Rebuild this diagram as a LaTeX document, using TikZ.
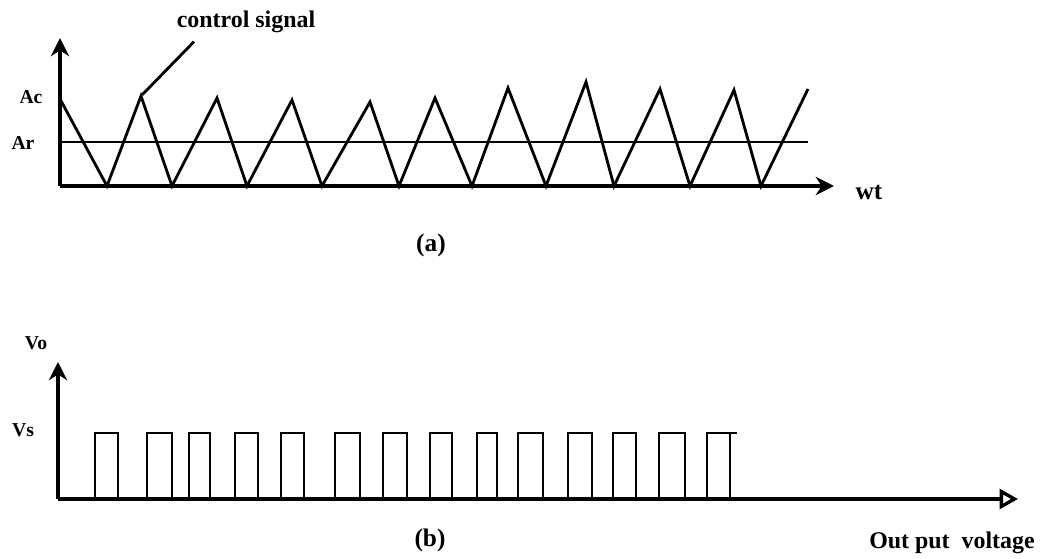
\documentclass[tikz,border=0pt]{standalone}
\usepackage{fontspec}
\setmainfont{Liberation Serif}
\usetikzlibrary{arrows.meta}

\begin{document}
\begin{tikzpicture}[x=0.025cm, y=-0.025cm,
  axis/.style={line width=2.4pt, -{Stealth[length=13pt,width=13pt]}},
  wave/.style={line width=2pt, line join=miter},
  lbl/.style={font=\bfseries\fontsize{14}{16}\selectfont, inner sep=0pt},
  bigtxt/.style={font=\bfseries\fontsize{18}{21}\selectfont, inner sep=0pt}]
  \useasboundingbox (0,0) rectangle (1048,559);

  % (a) carrier and control signal
  \coordinate (oa) at (60,186);
  \coordinate (ya) at (60,38);
  \coordinate (xa) at (834,186);
  \draw[axis] (oa) -- (ya);
  \draw[axis] (oa) -- (xa);
  \draw[wave] (60,142) -- (808,142);
  \draw[wave] (60,99)
    foreach \x/\y in {107/186,141/96,172/186,217/98,247/186,292/100,322/186,
      370/102,399/186,435/98,472/186,508/88,546/186,586/82,614/186,660/89,
      690/186,734/90,761/186,808/89} { -- (\x,\y) };
  \node[lbl] (ac) at (31,97) {Ac};
  \node[lbl] (ar) at (23,143) {Ar};
  \node[bigtxt] (wt) at (869,192) {wt};
  \node[bigtxt, font=\bfseries\fontsize{17}{20}\selectfont] (ctl) at (246,22) {control signal};
  \coordinate (pk) at (142,95);
  \draw[wave] ([xshift=-52*0.025cm, yshift=-6pt]ctl.south) -- (pk);
  \node[bigtxt] (capa) at (431,245) {(a)};

  % (b) output voltage
  \coordinate (ob) at (58,499);
  \coordinate (yb) at (58,362);
  \coordinate (xb) at (1018,499);
  \draw[axis] (ob) -- (yb);
  \draw[line width=2.4pt, -{Triangle[open, length=13pt, width=14pt, line width=2.4pt]}] (ob) -- (xb);
  \foreach \l/\r in {95/118,147/172,189/210,235/258,281/304,335/360,383/407,
      430/452,477/497,518/543,568/592,613/636,659/685,707/730}
    \draw[wave] (\l,499) -- (\l,433) -- (\r,433) -- (\r,499);
  \draw[wave] (730,433) -- (737,433);
  \node[lbl] (vo) at (36,343) {Vo};
  \node[lbl] (vs) at (23,430) {Vs};
  \node[bigtxt] (capb) at (430,540) {(b)};
  \node[bigtxt, font=\bfseries\fontsize{17}{20}\selectfont] (outv) at (952,543) {Out put\ \ voltage};
\end{tikzpicture}
\end{document}
